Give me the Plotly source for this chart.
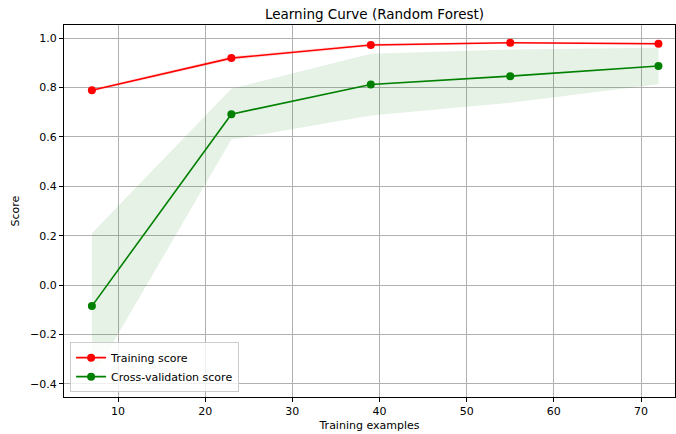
import numpy as np
import plotly.graph_objects as go

# Learning curve results
train_sizes = [7, 23, 39, 55, 72]
train_mean = [0.789, 0.919, 0.972, 0.981, 0.977]
train_std = [0.006, 0.008, 0.006, 0.004, 0.005]
cv_mean = [-0.085, 0.692, 0.812, 0.846, 0.887]
cv_std = [0.295, 0.103, 0.125, 0.108, 0.074]

x_ticks = [10, 20, 30, 40, 50, 60, 70]
y_ticks = [-0.4, -0.2, 0.0, 0.2, 0.4, 0.6, 0.8, 1.0]

FONT = "DejaVu Sans"


def band(x, mean, std, color):
    m = np.array(mean)
    s = np.array(std)
    xs = list(x) + list(x)[::-1]
    ys = list(m + s) + list((m - s)[::-1])
    return go.Scatter(x=xs, y=ys, fill="toself", fillcolor=color,
                      line=dict(width=0), mode="lines", hoverinfo="skip",
                      showlegend=False)


fig = go.Figure()
fig.add_trace(band(train_sizes, train_mean, train_std, "rgba(255,0,0,0.1)"))
fig.add_trace(band(train_sizes, cv_mean, cv_std, "rgba(0,128,0,0.1)"))
fig.add_trace(go.Scatter(x=train_sizes, y=train_mean, mode="lines+markers",
                         name="Training score",
                         line=dict(color="red", width=1.6),
                         marker=dict(color="red", size=8)))
fig.add_trace(go.Scatter(x=train_sizes, y=cv_mean, mode="lines+markers",
                         name="Cross-validation score",
                         line=dict(color="green", width=1.6),
                         marker=dict(color="green", size=8)))

axis_common = dict(showgrid=True, gridcolor="#b0b0b0", gridwidth=1,
                   showline=True, linecolor="black", linewidth=1, mirror=True,
                   ticks="outside", ticklen=4, tickcolor="black",
                   zeroline=False, tickfont=dict(size=11, color="black"))

fig.update_layout(
    width=676, height=434,
    margin=dict(l=64, r=1, t=25, b=37),
    paper_bgcolor="white", plot_bgcolor="white",
    font=dict(family=FONT, size=11, color="black"),
    title=dict(text="Learning Curve (Random Forest)", x=0.554, xanchor="center",
               y=0.967, yanchor="middle", font=dict(size=13.5, color="black")),
    xaxis=dict(range=[3.8, 73.9], tickvals=x_ticks,
               title=dict(text="Training examples", standoff=4,
                          font=dict(size=11)), **axis_common),
    yaxis=dict(range=[-0.453, 1.053], tickvals=y_ticks,
               ticktext=[f"{v:.1f}".replace("-", "\u2212") for v in y_ticks],
               title=dict(text="Score", standoff=8, font=dict(size=11)),
               **axis_common),
    legend=dict(x=0.01, y=0.013, xanchor="left", yanchor="bottom",
                bgcolor="rgba(255,255,255,0.8)", bordercolor="#cccccc",
                borderwidth=1, font=dict(size=11), tracegroupgap=0,
                itemwidth=30),
    showlegend=True,
)

fig.write_html("out.html")
